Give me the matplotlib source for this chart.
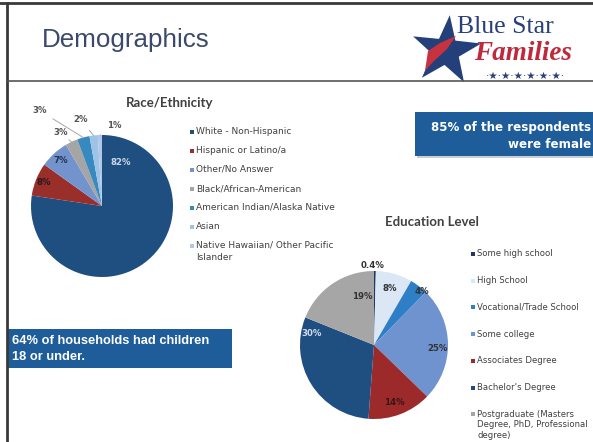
import matplotlib
matplotlib.use('Agg')
import matplotlib.pyplot as plt
from matplotlib.patches import Rectangle, Polygon
import numpy as np

# ---- data ----
race_labels = ['White - Non-Hispanic', 'Hispanic or Latino/a', 'Other/No Answer',
               'Black/African-American', 'American Indian/Alaska Native', 'Asian',
               'Native Hawaiian/ Other Pacific\nIslander']
race_values = [82, 8, 7, 3, 3, 2, 1]
race_text = ['82%', '8%', '7%', '3%', '3%', '2%', '1%']

edu_labels = ['Some high school', 'High School', 'Vocational/Trade School', 'Some college',
              'Associates Degree', "Bachelor's Degree",
              'Postgraduate (Masters\nDegree, PhD, Professional\ndegree)']
edu_values = [0.4, 8, 4, 25, 14, 30, 19]
edu_text = ['0.4%', '8%', '4%', '25%', '14%', '30%', '19%']

# ---- styles ----
race_colors = ['#1f4e80', '#9a2e2b', '#7293cb', '#a5a5a5', '#3789c0', '#9dc3e6', '#b4c6e7']
race_lbl_shift = [116, 0, 0, 4, 18, 7, -10]
race_lbl_r = [0.66, 0.89, 0.86, 1.19, 1.61, 1.25, 1.15]
race_lbl_col = ['#c9d8ee', '#2a1a1a', '#243555', '#555555', '#555555', '#555555', '#555555']

edu_colors = ['#1f3864', '#dbe7f5', '#2f7fc7', '#6f93cf', '#9c2a2a', '#1f4e80', '#a6a6a6']
edu_lbl_shift = [2, 0, -5, -4, -1, -42, -20]
edu_lbl_r = [1.07, 0.80, 0.97, 0.86, 0.83, 0.85, 0.67]
edu_lbl_col = ['#333333', '#333333', '#333333', '#333333', '#3a1515', '#d0dcee', '#333333']

W, H = 593, 442
fig = plt.figure(figsize=(W / 100, H / 100), dpi=100)
fig.patch.set_facecolor('white')


def px_box(x0, y0, w, h):
    return [x0 / W, 1 - (y0 + h) / H, w / W, h / H]


# background / decoration axes in pixel coords
bg = fig.add_axes([0, 0, 1, 1])
bg.set_xlim(0, W)
bg.set_ylim(H, 0)
bg.axis('off')

bg.plot([0, W], [3, 3], color='#3a3a3a', lw=2)
bg.plot([7, 7], [3, H], color='#3a3a3a', lw=2)
bg.plot([8, W], [81, 81], color='#555555', lw=1.2)

bg.text(42, 40, 'Demographics', fontsize=18.7, color='#3b4a6b',
        family='Liberation Sans', va='center', ha='left')

# logo
cx, cy, R, r = 446, 51, 36, 14
ang = np.deg2rad(90 - 6 + np.arange(10) * 36)
rad = np.where(np.arange(10) % 2 == 0, R, r)
star = np.column_stack([cx + rad * np.cos(ang), cy - rad * np.sin(ang)])
bg.add_patch(Polygon(star, closed=True, color='#23407a', lw=0))
bg.add_patch(Polygon([(425, 71), (428, 51), (440, 43), (456, 36), (447, 49), (433, 62)],
                     closed=True, color='#c8323f', lw=0))
bg.text(457, 27, 'Blue Star', fontsize=18.5, color='#2b3f78', family='Liberation Serif',
        va='center', ha='left')
bg.text(474, 53, 'Families', fontsize=19.5, color='#c0283c', family='Liberation Serif',
        style='italic', weight='bold', va='center', ha='left')
bg.text(525, 76, '\u00b7\u2605\u00b7\u2605\u00b7\u2605\u00b7\u2605\u00b7\u2605\u00b7\u2605\u00b7',
        fontsize=7.5, color='#2b3f78', va='center', ha='center', family='DejaVu Sans')

# callout boxes
bg.add_patch(Rectangle((417, 114), 180, 44, color='#c9ced6', lw=0))
bg.add_patch(Rectangle((415, 112), 180, 44, color='#1f5d9a', lw=0))
bg.text(591, 128, '85% of the respondents', fontsize=8.6, color='white', weight='bold',
        family='DejaVu Sans', ha='right', va='center')
bg.text(591, 144, 'were female', fontsize=8.6, color='white', weight='bold',
        family='DejaVu Sans', ha='right', va='center')

bg.add_patch(Rectangle((8, 329), 224, 39, color='#1f5d9a', lw=0))
bg.text(12, 341, '64% of households had children', fontsize=9.3, color='white',
        weight='bold', family='Liberation Sans', ha='left', va='center')
bg.text(12, 357, '18 or under.', fontsize=9.3, color='white',
        weight='bold', family='Liberation Sans', ha='left', va='center')

# chart titles
bg.text(170, 103, 'Race/Ethnicity', fontsize=9.5, color='#404040', weight='bold',
        family='Lato', ha='center', va='center')
bg.text(432, 222, 'Education Level', fontsize=9.5, color='#404040', weight='bold',
        family='Lato', ha='center', va='center')


def draw_pie(box, values, colors, texts, shifts, radii, tcols, leaders):
    ax = fig.add_axes(box)
    wedges, _ = ax.pie(values, colors=colors, startangle=90, counterclock=False,
                       radius=1, wedgeprops=dict(lw=0))
    ax.set_xlim(-1, 1)
    ax.set_ylim(-1, 1)
    ax.set_aspect('equal')
    ax.axis('off')
    for i, w in enumerate(wedges):
        mid = (w.theta1 + w.theta2) / 2
        a = np.deg2rad(mid + shifts[i])
        tx, ty = radii[i] * np.cos(a), radii[i] * np.sin(a)
        if leaders and radii[i] > 1.05:
            m = np.deg2rad(mid)
            ax.annotate(texts[i], xy=(np.cos(m), np.sin(m)), xytext=(tx, ty),
                        fontsize=6.2, weight='bold', color=tcols[i], ha='center', va='center',
                        arrowprops=dict(arrowstyle='-', color='#9a9a9a', lw=0.6,
                                        shrinkA=3, shrinkB=0))
        else:
            ax.text(tx, ty, texts[i], fontsize=6.2, weight='bold', color=tcols[i],
                    ha='center', va='center')
    return ax, wedges


ax_r, wr = draw_pie(px_box(31, 135, 142, 142), race_values, race_colors, race_text,
                    race_lbl_shift, race_lbl_r, race_lbl_col, True)
ax_e, we = draw_pie(px_box(300, 271, 148, 148), edu_values, edu_colors, edu_text,
                    edu_lbl_shift, edu_lbl_r, edu_lbl_col, False)


# legends (key square beside the first line of each entry)
def draw_legend(x, y0, step, line_gap, labels, colors, size):
    for i, (lab, col) in enumerate(zip(labels, colors)):
        y = y0 + i * step
        bg.add_patch(Rectangle((x - 2, y - 2), 4, 4, color=col, lw=0))
        for j, line in enumerate(lab.split('\n')):
            bg.text(x + 4, y + j * line_gap, line, fontsize=size, color='#404040',
                    family='DejaVu Sans', ha='left', va='center')


draw_legend(192, 131.5, 19, 12.5, race_labels, race_colors, 6.5)
draw_legend(473, 254, 26.7, 10.5, edu_labels, edu_colors, 6.1)

plt.savefig('out.png', dpi=100)
